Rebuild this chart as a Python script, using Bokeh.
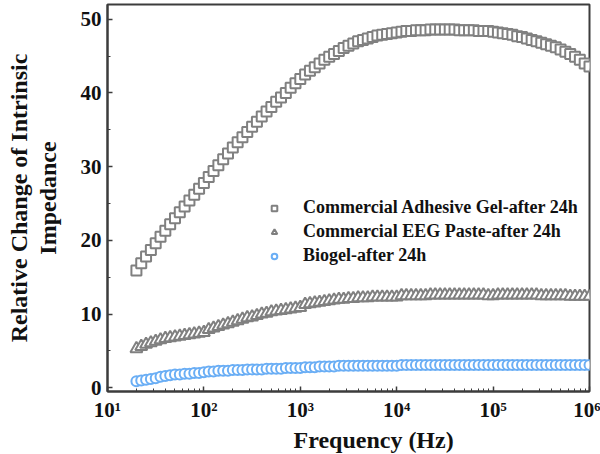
import math

from bokeh.embed import file_html
from bokeh.models import Legend, LegendItem, SingleIntervalTicker, LogTicker, Range1d, Title
from bokeh.plotting import figure
from bokeh.resources import INLINE

# Sweep grid: 20 points per decade, 20 Hz .. 1 MHz
mantissas = [1.0, 1.122, 1.259, 1.413, 1.585, 1.778, 1.995, 2.239, 2.512, 2.818,
             3.162, 3.548, 3.981, 4.467, 5.012, 5.623, 6.310, 7.079, 7.943, 8.913]
decades = [1, 2, 3, 4, 5]
freq = [m * 10 ** d for d in decades for m in mantissas if 19.9 <= m * 10 ** d] + [1.0e6]

adhesive_gel = [
    15.9, 16.9, 17.8, 18.7, 19.6, 20.5, 21.3, 22.2, 23.0, 23.8, 24.6, 25.4, 26.2, 27.0,
    27.8, 28.6, 29.4, 30.2, 31.0, 31.8, 32.6, 33.3, 34.0, 34.7, 35.4, 36.1, 36.8, 37.5,
    38.1, 38.8, 39.4, 40.0, 40.7, 41.3,
    41.9, 42.5, 43.0, 43.5, 44.0, 44.5, 44.9, 45.3, 45.7, 46.1, 46.4, 46.7, 47.0, 47.2,
    47.4, 47.6, 47.8, 47.9, 48.0, 48.1,
    48.2, 48.3, 48.4, 48.4, 48.5, 48.5, 48.5, 48.6, 48.6, 48.6, 48.6, 48.6, 48.6, 48.5,
    48.5, 48.5, 48.5, 48.4, 48.4, 48.4,
    48.3, 48.2, 48.1, 48.0, 47.9, 47.7, 47.6, 47.4, 47.2, 47.0, 46.8, 46.6, 46.4, 46.2,
    45.9, 45.6, 45.3, 44.9, 44.5, 44.0,
    43.6,
]
eeg_paste = [
    5.3, 5.6, 5.9, 6.1, 6.3, 6.5, 6.7, 6.8, 6.9, 7.0, 7.1, 7.2, 7.3, 7.4,
    7.5, 7.9, 8.1, 8.3, 8.5, 8.7, 8.9, 9.1, 9.3, 9.5, 9.6, 9.8, 10.0, 10.1,
    10.3, 10.4, 10.5, 10.6, 10.7, 10.8,
    10.9, 11.3, 11.4, 11.5, 11.6, 11.7, 11.8, 11.9, 12.0, 12.0, 12.1, 12.1, 12.2, 12.2,
    12.2, 12.3, 12.3, 12.3, 12.3, 12.3,
    12.3, 12.5, 12.5, 12.5, 12.5, 12.5, 12.5, 12.6, 12.6, 12.6, 12.6, 12.6, 12.6, 12.6,
    12.6, 12.6, 12.6, 12.6, 12.6, 12.5,
    12.5, 12.6, 12.6, 12.6, 12.6, 12.6, 12.6, 12.6, 12.6, 12.6, 12.5, 12.5, 12.5, 12.5,
    12.5, 12.5, 12.4, 12.4, 12.4, 12.4,
    12.4,
]
biogel = [
    0.9, 1.0, 1.1, 1.2, 1.3, 1.5, 1.6, 1.7, 1.8, 1.8, 1.9, 1.9, 2.0, 2.0,
    2.1, 2.2, 2.2, 2.3, 2.3, 2.3, 2.4, 2.4, 2.4, 2.5, 2.5, 2.5, 2.5, 2.6,
    2.6, 2.6, 2.6, 2.7, 2.7, 2.7,
    2.7, 2.8, 2.8, 2.8, 2.9, 2.9, 2.9, 2.9, 3.0, 3.0, 3.0, 3.0, 3.0, 3.0,
    3.0, 3.0, 3.0, 3.0, 3.0, 3.0,
    3.0, 3.1, 3.1, 3.1, 3.1, 3.1, 3.1, 3.1, 3.1, 3.1, 3.1, 3.1, 3.1, 3.1,
    3.1, 3.1, 3.1, 3.1, 3.1, 3.1,
    3.1, 3.1, 3.1, 3.1, 3.1, 3.1, 3.1, 3.1, 3.1, 3.1, 3.1, 3.1, 3.1, 3.1,
    3.1, 3.1, 3.1, 3.1, 3.1, 3.1,
    3.1,
]

series_names = ["Commercial Adhesive Gel-after 24h",
                "Commercial EEG Paste-after 24h",
                "Biogel-after 24h"]
x_tick_values = [10, 100, 1000, 10000, 100000, 1000000]
x_tick_labels = ["10\u00b9", "10\u00b2", "10\u00b3", "10\u2074", "10\u2075", "10\u2076"]
y_title_lines = ["Relative Change of Intrinsic", "Impedance"]
x_title = "Frequency (Hz)"

FONT = "Liberation Serif"
GRAY = "#808080"
BLUE = "#6aaef5"
FRAME = "#3c3c3c"
INK = "#111111"

p = figure(width=600, height=454, x_axis_type="log",
           x_range=Range1d(10, 1.0e6), y_range=Range1d(-0.5, 52.0),
           output_backend="svg", toolbar_location=None,
           min_border_left=107, min_border_right=11,
           min_border_top=4, min_border_bottom=63)
p.grid.visible = False
p.background_fill_color = "white"
p.border_fill_color = "white"
p.outline_line_color = FRAME
p.outline_line_width = 2

r1 = p.scatter(freq, adhesive_gel, marker="square", size=10, line_color=GRAY,
               line_width=2, fill_color="white")
r2 = p.scatter(freq, eeg_paste, marker="triangle", size=12, line_color=GRAY,
               line_width=2, fill_color="white")
r3 = p.scatter(freq, biogel, marker="circle", size=10, line_color=BLUE,
               line_width=2, fill_color="white")

# Axes: inward ticks, bold serif labels
for ax in (p.xaxis[0], p.yaxis[0]):
    ax.axis_line_color = FRAME
    ax.axis_line_width = 2
    ax.major_tick_in = 5
    ax.major_tick_out = 0
    ax.minor_tick_in = 3
    ax.minor_tick_out = 0
    ax.major_tick_line_color = FRAME
    ax.minor_tick_line_color = FRAME
    ax.major_tick_line_width = 1.5
    ax.major_label_text_font = FONT
    ax.major_label_text_font_style = "bold"
    ax.major_label_text_font_size = "21px"
    ax.major_label_text_color = INK

p.yaxis[0].ticker = SingleIntervalTicker(interval=10, num_minor_ticks=2)
p.yaxis[0].major_label_standoff = 6
p.xaxis[0].ticker = LogTicker(desired_num_ticks=6, num_minor_ticks=10)
p.xaxis[0].major_label_overrides = dict(zip(x_tick_values, x_tick_labels))
p.xaxis[0].major_label_standoff = 6

# Two-line y title: inner line on the axis, outer line as a side panel
p.yaxis[0].axis_label = y_title_lines[1]
p.yaxis[0].axis_label_standoff = 17
p.yaxis[0].axis_label_text_font = FONT
p.yaxis[0].axis_label_text_font_style = "bold"
p.yaxis[0].axis_label_text_font_size = "24px"
p.yaxis[0].axis_label_text_color = INK

title_style = dict(text_font=FONT, text_font_style="bold", text_color=INK, text_font_size="24px")
p.add_layout(Title(text=x_title, align="left", offset=186, standoff=0, **title_style), "below")
p.add_layout(Title(text=y_title_lines[0], align="center", standoff=0, **title_style), "left")

legend = Legend(items=[LegendItem(label=n, renderers=[r]) for n, r in zip(series_names, [r1, r2, r3])],
                location=(160, 125), orientation="vertical",
                label_text_font=FONT, label_text_font_style="bold",
                label_text_font_size="18px", label_text_color=INK,
                glyph_width=14, glyph_height=20, label_height=20, label_standoff=22,
                spacing=3, padding=0, margin=0,
                border_line_alpha=0, background_fill_alpha=0)
p.add_layout(legend)

open("out.html", "w").write(file_html(p, INLINE))
